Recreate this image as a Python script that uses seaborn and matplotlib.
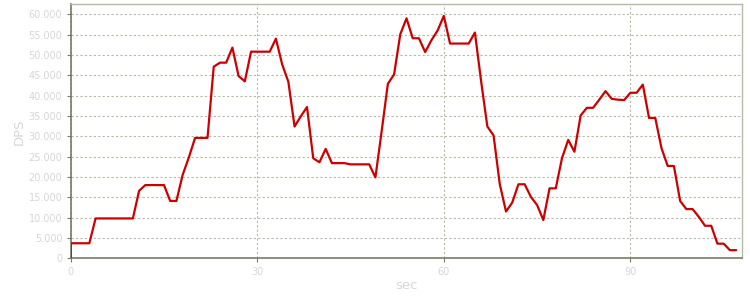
import matplotlib
matplotlib.use("Agg")
import matplotlib.pyplot as plt
import seaborn as sns
import pandas as pd
from matplotlib.ticker import FuncFormatter, FixedLocator

sec = [0, 0, 1, 2, 3, 4, 5, 6, 7, 8, 9, 10, 11, 12, 13, 14, 15, 16, 17, 18, 19,
       20, 21, 22, 23, 24, 25, 26, 27, 28, 29, 30, 31, 32, 33, 34, 35, 36, 37, 38, 39,
       40, 41, 42, 43, 44, 45, 46, 47, 48, 49, 50, 51, 52, 53, 54, 55, 56, 57, 58, 59,
       60, 61, 62, 63, 64, 65, 66, 67, 68, 69, 70, 71, 72, 73, 74, 75, 76, 77, 78, 79,
       80, 81, 82, 83, 84, 85, 86, 87, 88, 89, 90, 91, 92, 93, 94, 95, 96, 97, 98, 99,
       100, 101, 102, 103, 104, 105, 106, 107]
dps = [0, 3700, 3700, 3700, 3700, 9800, 9800, 9800, 9800, 9800, 9800, 9800, 16600, 18000, 18000, 18000, 18000, 14100, 14100, 20500, 24800,
       29600, 29600, 29600, 47100, 48100, 48100, 51800, 44800, 43500, 50800, 50800, 50800, 50800, 54000, 47700, 43400, 32400, 34900, 37200, 24600,
       23600, 26900, 23400, 23400, 23400, 23100, 23100, 23100, 23100, 19900, 31200, 42900, 45200, 55100, 59000, 54100, 54100, 50700, 53600, 56000,
       59600, 52800, 52800, 52800, 52800, 55500, 43500, 32400, 30200, 18200, 11500, 13700, 18200, 18200, 15100, 13100, 9400, 17200, 17200, 24600,
       29100, 26200, 35100, 37000, 37000, 39000, 41100, 39200, 39000, 38900, 40700, 40700, 42700, 34500, 34500, 27100, 22700, 22700, 14100, 12100,
       12100, 10200, 8000, 8000, 3600, 3600, 2000, 2000]
x_ticks = [0, 30, 60, 90]
y_ticks = list(range(0, 60001, 5000))

df = pd.DataFrame({"sec": sec, "DPS": dps})

sns.set_style("white")
plt.rcParams['font.family'] = ['DejaVu Sans']

fig = plt.figure(figsize=(7.5, 3.0), dpi=100)
ax = fig.add_axes([70.7 / 750, 1 - 258.3 / 300, (741.7 - 70.7) / 750, (258.3 - 4.3) / 300])

sns.lineplot(data=df, x="sec", y="DPS", ax=ax, estimator=None, sort=False,
             color="#cc0000", linewidth=1.6, zorder=3)

ax.set_xlim(0, 107.9)
ax.set_ylim(0, 62450)
ax.xaxis.set_major_locator(FixedLocator(x_ticks))
ax.yaxis.set_major_locator(FixedLocator(y_ticks))
ax.yaxis.set_major_formatter(FuncFormatter(lambda v, p: f"{v:,.0f}".replace(",", ".")))

grid_col = "#b8b8a8"
ax.grid(True, color=grid_col, linestyle=(0, (2, 2)), linewidth=0.8, zorder=1)

for side in ["left", "bottom"]:
    ax.spines[side].set_color("#7a7a62")
    ax.spines[side].set_linewidth(1.2)
for side in ["top", "right"]:
    ax.spines[side].set_color("#b8b8a8")
    ax.spines[side].set_linewidth(1.0)

label_col = "#d6d6d6"
ax.tick_params(axis="both", which="major", direction="out", length=3, width=0.8,
               color="#7a7a62", labelcolor=label_col, labelsize=7, pad=3,
               left=True, bottom=True)
ax.set_xlabel("sec", color=label_col, fontsize=9.5, labelpad=2)
ax.set_ylabel("DPS", color=label_col, fontsize=9.5, labelpad=2)

fig.savefig("out.png", dpi=100, facecolor="white")
